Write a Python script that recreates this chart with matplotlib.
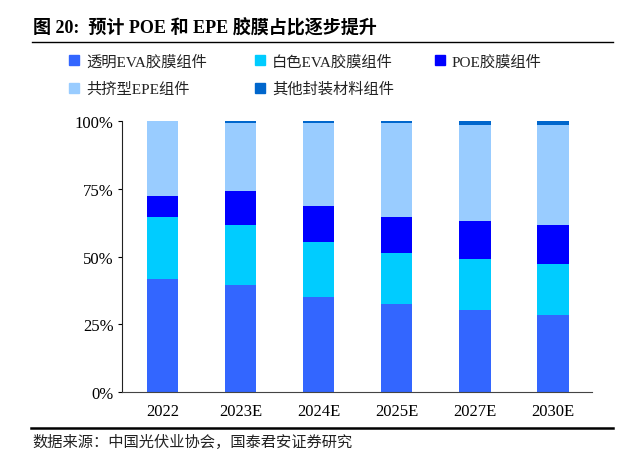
import matplotlib.pyplot as plt
from matplotlib.patches import Patch
from matplotlib.lines import Line2D
from matplotlib.ticker import PercentFormatter

plt.rcParams['font.family'] = ['Liberation Serif', 'Noto Sans CJK SC']

years = ['2022', '2023E', '2024E', '2025E', '2027E', '2030E']
series_names = ['透明EVA胶膜组件', '白色EVA胶膜组件', 'POE胶膜组件', '共挤型EPE组件', '其他封装材料组件']
clear_eva = [41.7, 39.6, 35.1, 32.5, 30.3, 28.4]
white_eva = [22.9, 22.0, 20.1, 18.9, 18.8, 18.7]
poe = [7.9, 12.7, 13.5, 13.1, 14.1, 14.5]
epe = [27.5, 24.9, 30.4, 34.6, 35.5, 36.8]
other = [0.0, 0.8, 0.9, 0.9, 1.3, 1.6]
colors = ['#3366FF', '#00CCFF', '#0000FF', '#99CCFF', '#0066CC']

fig = plt.figure(figsize=(6.4, 4.77), dpi=100)
ax = fig.add_axes([122/640, 1-393/477, 470/640, 271/477])

x = list(range(len(years)))
bottom = [0.0] * len(years)
for vals, c, name in zip([clear_eva, white_eva, poe, epe, other], colors, series_names):
    v = [a / 100 for a in vals]
    ax.bar(x, v, 0.4, bottom=bottom, color=c, label=name)
    bottom = [b + a for b, a in zip(bottom, v)]

ax.set_ylim(0, 1)
ax.set_xlim(-0.52, 5.5)
ax.set_yticks([0, 0.25, 0.5, 0.75, 1.0])
ax.yaxis.set_major_formatter(PercentFormatter(1.0, decimals=0))
ax.set_xticks(x)
ax.set_xticklabels(years)
ax.tick_params(axis='x', length=0, labelsize=12, pad=8)
ax.tick_params(axis='y', length=3, labelsize=12, pad=3)
for s in ['top', 'right']:
    ax.spines[s].set_visible(False)
ax.spines['left'].set_color('#222222')
ax.spines['bottom'].set_color('#444444')

# legend: one small legend per entry so positions match the original layout
leg_pos = [(69, 62.5), (255, 62.5), (435, 62.5), (69, 90), (255, 90)]
for name, c, (px, py) in zip(series_names, colors, leg_pos):
    lg = fig.legend([Patch(color=c)], [name], loc='center left',
                    bbox_to_anchor=(px/640, 1-py/477), frameon=False,
                    borderpad=0, borderaxespad=0, handlelength=0.65, handleheight=0.65,
                    handletextpad=0.45, prop={'size': 11})
    lg.get_texts()[0].set_color('#222222')

fig.text(33/640, 1-28/477, '图 20:  预计 POE 和 EPE 胶膜占比逐步提升', fontsize=13, fontweight='bold',
         va='center', ha='left')
fig.add_artist(Line2D([32/640, 613/640], [1-42.5/477, 1-42.5/477], color='black', lw=1.0))
fig.add_artist(Line2D([31/640, 613/640], [1-429/477, 1-429/477], color='black', lw=1.8))
fig.text(32/640, 1-442/477, '数据来源：中国光伏业协会，国泰君安证券研究', fontsize=11, va='center', ha='left',
         color='#222222')

fig.savefig('out.png', dpi=100)
